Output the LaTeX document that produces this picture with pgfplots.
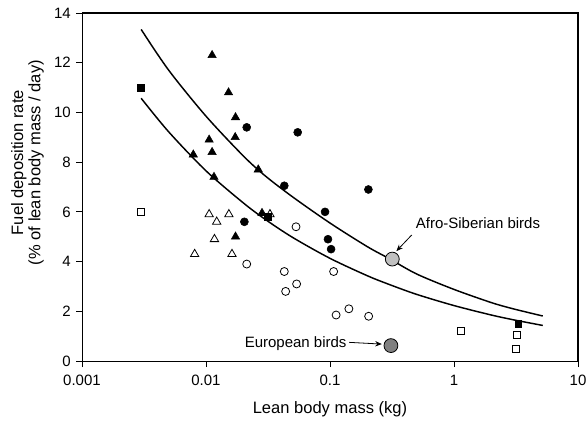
\documentclass[border=0pt]{standalone}
\usepackage{fontspec}
\setmainfont{Liberation Sans}
\usepackage{pgfplots}
\pgfplotsset{compat=1.18}
\usetikzlibrary{arrows.meta}
\definecolor{lightg}{RGB}{192,192,192}
\definecolor{darkg}{RGB}{128,128,128}
\begin{document}
\fontsize{11.25}{13.5}\selectfont
\begin{tikzpicture}
\begin{axis}[
  name=ax, at={(0pt,0pt)}, anchor=south west,
  xmode=log, scale only axis, width=372pt, height=261pt,
  xmin=0.001, xmax=10, ymin=0, ymax=14,
  ytick={0,2,4,6,8,10,12,14},
  xtick={0.001,0.01,0.1,1,10}, xticklabels={0.001,0.01,0.1,1,10},
  log basis x=10,
  tick align=outside, xtick pos=left, ytick pos=left,
  major tick length=4.5pt, minor tick length=3pt,
  every tick/.style={black, line width=0.6pt},
  axis line style={black, line width=0.7pt},
  /pgf/number format/assume math mode=true,
  ticklabel style={font=\fontsize{11.25}{13.5}\selectfont},
  xticklabel style={yshift=-2.25pt},
  xlabel={Lean body mass (kg)},
  ylabel={Fuel deposition rate\\(\% of lean body mass / day)},
  ylabel style={align=center, font=\fontsize{12.4}{13}\selectfont, at={(axis description cs:-0.11,0.57)}, anchor=center},
  xlabel style={font=\fontsize{12.4}{14}\selectfont, at={(axis description cs:0.5,0)}, yshift=-36pt, anchor=center},
  clip=false,
]
% curves
\addplot[black, line width=1.1pt, smooth] coordinates {
 (0.003,13.34) (0.005,11.7) (0.01,9.85) (0.02,8.25) (0.03,7.45) (0.05,6.6)
 (0.1,5.55) (0.2,4.6) (0.3,4.12) (0.5,3.5) (1,2.88) (2,2.35) (3,2.1) (5.2,1.81)};
\addplot[black, line width=1.1pt, smooth] coordinates {
 (0.003,10.57) (0.005,9.22) (0.01,7.65) (0.02,6.36) (0.03,5.70) (0.05,4.97)
 (0.1,4.13) (0.2,3.43) (0.3,3.08) (0.5,2.68) (1,2.23) (2,1.85) (3,1.66) (5.2,1.43)};
% filled triangles
\addplot[only marks, mark=triangle*, mark size=3.6pt, mark options={fill=black, draw=black}] coordinates {
 (0.0112,12.3) (0.0152,10.8) (0.0173,9.8) (0.0172,9.0) (0.0106,8.9) (0.0112,8.4)
 (0.0079,8.3) (0.0264,7.7) (0.0116,7.4) (0.0283,5.95) (0.0173,5.0)};
% open triangles
\addplot[only marks, mark=triangle, mark size=3.6pt, mark options={draw=black, fill=white, line width=0.6pt}] coordinates {
 (0.0106,5.9) (0.0122,5.6) (0.0153,5.9) (0.0117,4.9) (0.0081,4.3) (0.0162,4.3) (0.0328,5.9)};
% filled circles
\addplot[only marks, mark=*, mark size=3pt, mark options={fill=black, draw=black}] coordinates {
 (0.0213,9.4) (0.0549,9.2) (0.0428,7.05) (0.0204,5.6) (0.204,6.9) (0.0912,6.0) (0.0963,4.9) (0.102,4.5)};
% open circles
\addplot[only marks, mark=o, mark size=3pt, mark options={draw=black, fill=white, line width=0.6pt}] coordinates {
 (0.0532,5.4) (0.0213,3.9) (0.0428,3.6) (0.0439,2.8) (0.0538,3.1) (0.107,3.6) (0.112,1.85) (0.142,2.1) (0.205,1.8)};
% filled squares
\addplot[only marks, mark=square*, mark size=2.6pt, mark options={fill=black, draw=black}] coordinates {
 (0.003,11.0) (0.0314,5.8) (3.3,1.5)};
% open squares
\addplot[only marks, mark=square, mark size=2.6pt, mark options={draw=black, fill=white, line width=0.6pt}] coordinates {
 (0.003,6.0) (1.13,1.2) (3.2,1.05) (3.16,0.48)};
% grey circles
\addplot[only marks, mark=*, mark size=5.2pt, mark options={fill=lightg, draw=black, line width=0.6pt}] coordinates {(0.318,4.1)};
\addplot[only marks, mark=*, mark size=5.2pt, mark options={fill=darkg, draw=black, line width=0.6pt}] coordinates {(0.31,0.62)};
% annotations
\node[anchor=west, inner sep=0pt] at (axis cs:0.49,5.54) {Afro-Siberian birds};
\draw[-{Stealth[length=5pt,width=4pt]}, line width=0.6pt] (axis cs:0.456,5.07) -- (axis cs:0.343,4.42);
\node[anchor=east, inner sep=0pt] at (axis cs:0.1365,0.71) {European birds};
\draw[-{Stealth[length=5pt,width=4pt]}, line width=0.6pt] (axis cs:0.143,0.75) -- (axis cs:0.262,0.68);
\end{axis}
\draw[black, line width=0.8pt] (0pt,261pt) -- (372pt,261pt) -- (372pt,0pt);
\pgfresetboundingbox
\path[use as bounding box] (-61.5pt,-45pt) rectangle (379.5pt,270.75pt);
\end{tikzpicture}
\end{document}
